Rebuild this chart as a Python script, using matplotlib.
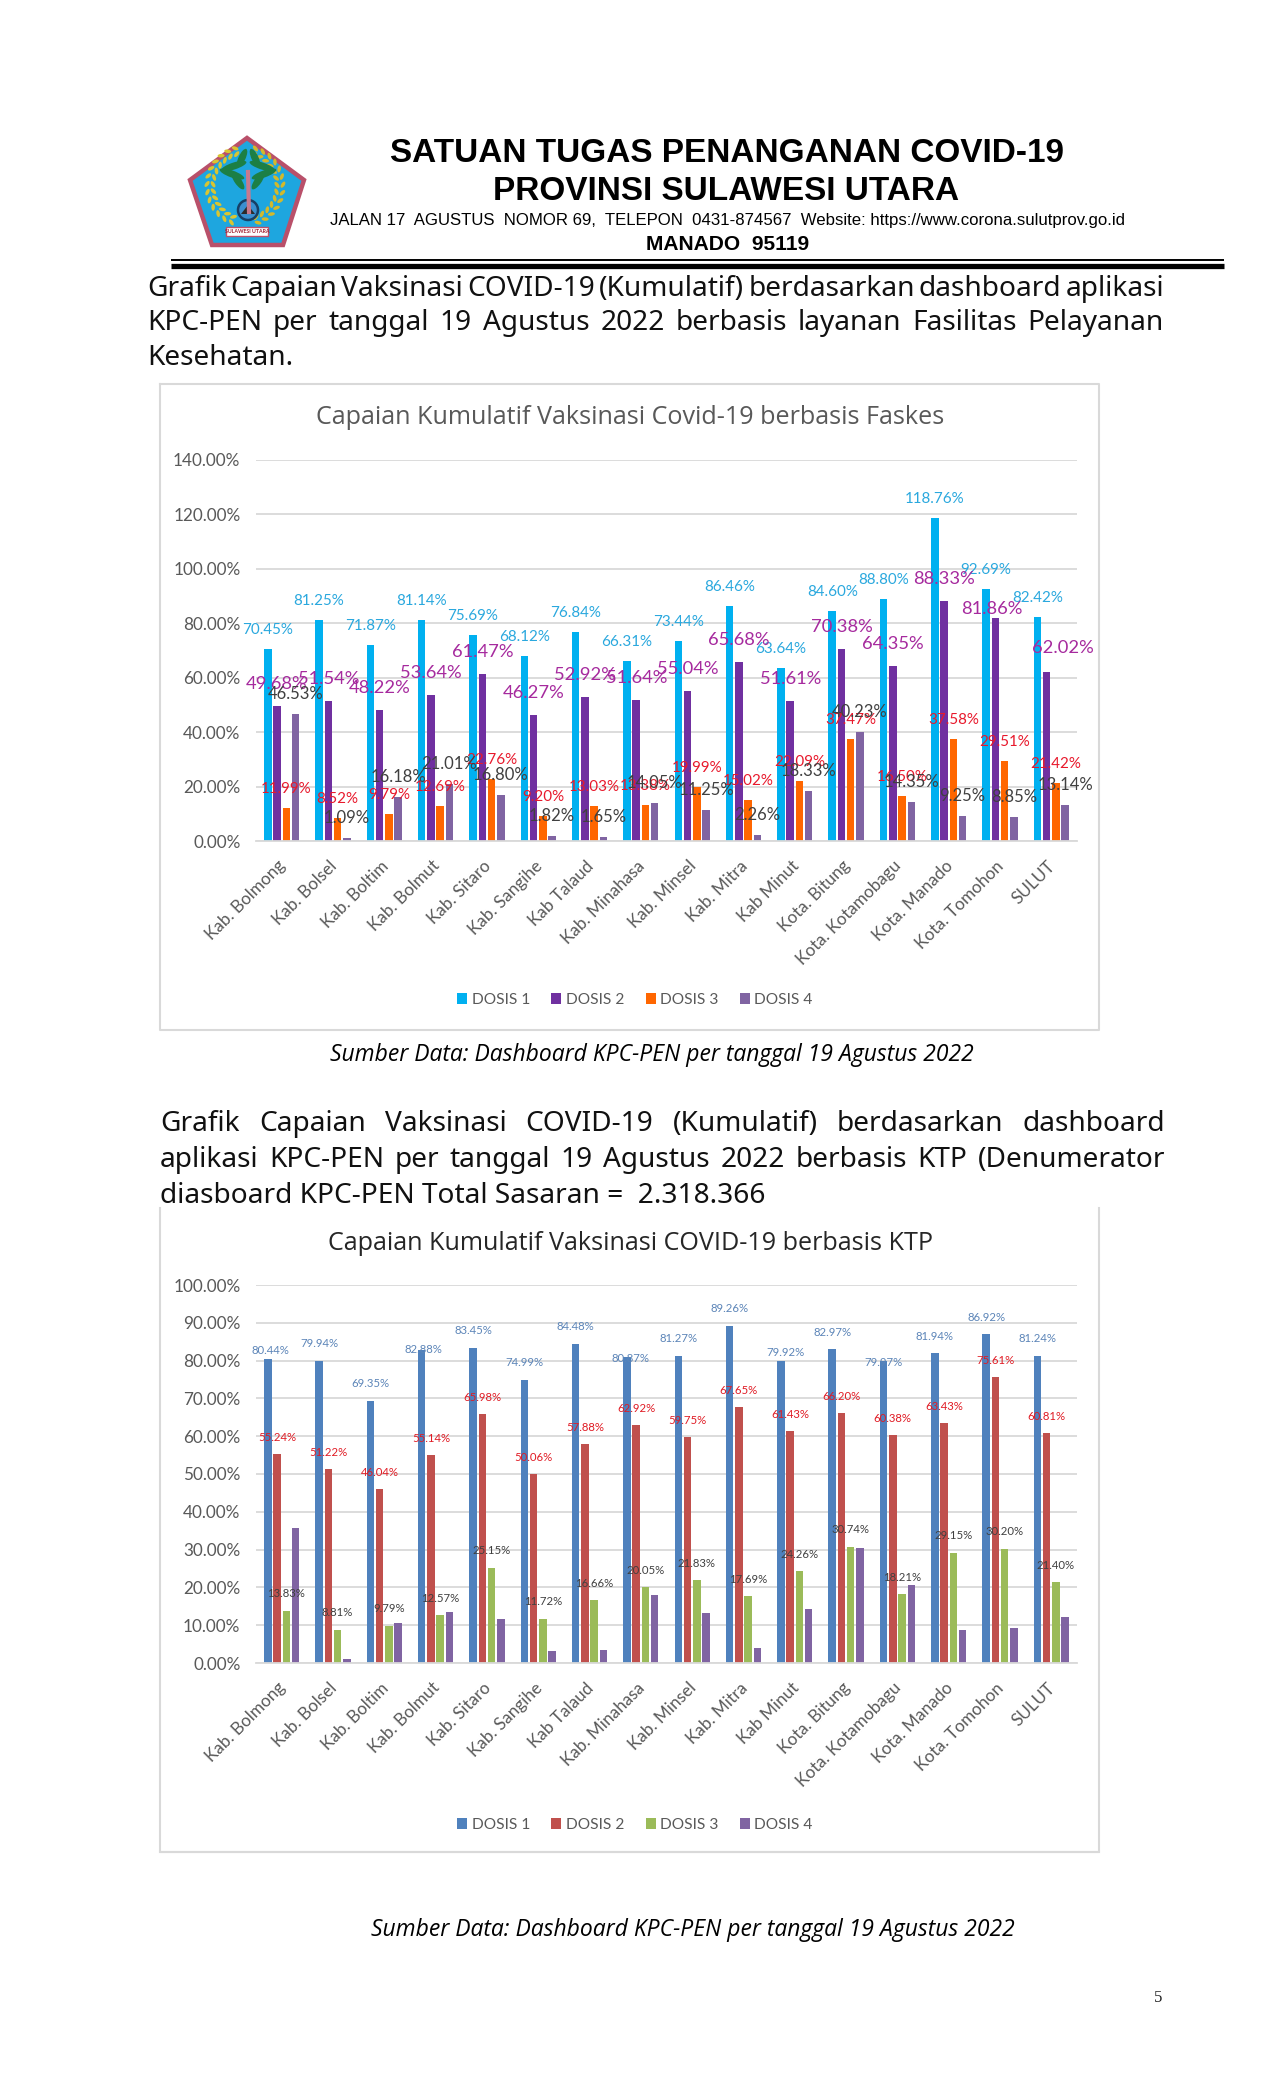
import matplotlib
matplotlib.use('Agg')
import matplotlib.pyplot as plt
import numpy as np
from matplotlib.patches import Polygon, Patch, Ellipse, Circle, Rectangle

W, H = 1275, 2100

categories = ['Kab. Bolmong', 'Kab. Bolsel', 'Kab. Boltim', 'Kab. Bolmut', 'Kab. Sitaro', 'Kab. Sangihe',
              'Kab Talaud', 'Kab. Minahasa', 'Kab. Minsel', 'Kab. Mitra', 'Kab Minut', 'Kota. Bitung',
              'Kota. Kotamobagu', 'Kota. Manado', 'Kota. Tomohon', 'SULUT']
series_names = ['DOSIS 1', 'DOSIS 2', 'DOSIS 3', 'DOSIS 4']

# chart 1 - faskes
f_dosis1 = [70.45, 81.25, 71.87, 81.14, 75.69, 68.12, 76.84, 66.31, 73.44, 86.46, 63.64, 84.60, 88.80, 118.76, 92.69, 82.42]
f_dosis2 = [49.68, 51.54, 48.22, 53.64, 61.47, 46.27, 52.92, 51.64, 55.04, 65.68, 51.61, 70.38, 64.35, 88.33, 81.86, 62.02]
f_dosis3 = [11.99, 8.52, 9.79, 12.69, 22.76, 9.20, 13.03, 13.38, 19.99, 15.02, 22.09, 37.47, 16.50, 37.58, 29.51, 21.42]
f_dosis4 = [46.53, 1.09, 16.18, 21.01, 16.80, 1.82, 1.65, 14.05, 11.25, 2.26, 18.33, 40.23, 14.35, 9.25, 8.85, 13.14]

# chart 2 - ktp (dosis 4 has no labels)
k_dosis1 = [80.44, 79.94, 69.35, 82.88, 83.45, 74.99, 84.48, 80.87, 81.27, 89.26, 79.92, 82.97, 79.97, 81.94, 86.92, 81.24]
k_dosis2 = [55.24, 51.22, 46.04, 55.14, 65.98, 50.06, 57.88, 62.92, 59.75, 67.65, 61.43, 66.20, 60.38, 63.43, 75.61, 60.81]
k_dosis3 = [13.83, 8.81, 9.79, 12.57, 25.15, 11.72, 16.66, 20.05, 21.83, 17.69, 24.26, 30.74, 18.21, 29.15, 30.20, 21.40]
k_dosis4 = [35.7, 1.1, 10.6, 13.4, 11.6, 3.3, 3.4, 17.9, 13.3, 3.9, 14.3, 30.4, 20.7, 8.6, 9.3, 12.2]

plt.rcParams['font.family'] = ['Lato', 'DejaVu Sans']
fig = plt.figure(figsize=(W / 100, H / 100), dpi=100, facecolor='white')

# page layer in pixel coordinates
page = fig.add_axes([0, 0, 1, 1])
page.set_xlim(0, W)
page.set_ylim(H, 0)
page.axis('off')


def justified(line, x0, x1, y, size, stretch=True):
    if not stretch:
        page.text(x0, y, line, fontsize=size, family='Noto Sans', color='#111111', va='center', ha='left')
        return
    words = line.split(' ')
    items = [page.text(x0, y, w, fontsize=size, family='Noto Sans', color='#111111', va='center', ha='left') for w in words]
    r = fig.canvas.get_renderer()
    widths = [t.get_window_extent(r).width for t in items]
    gap = (x1 - x0 - sum(widths)) / (len(words) - 1)
    x = x0
    for t, w in zip(items, widths):
        t.set_x(x)
        x += w + gap


def wreath(t1, t2, color):
    for a in np.arange(t1, t2, 12):
        rad = np.radians(a)
        for side in [-1, 1]:
            cx = 245 + (35 + side * 3) * np.cos(rad)
            cy = 186 - (36 + side * 3) * np.sin(rad)
            page.add_patch(Ellipse((cx, cy), 7, 3.5, angle=-a + 90 + side * 35, fc=color, ec='none'))


def draw_logo():
    page.add_patch(Polygon([(247, 138), (304, 180), (283, 245), (212, 245), (190, 180)], fc='#1ea6df', ec='#b9506a', lw=3.2, joinstyle='miter'))
    wreath(105, 250, '#d9c531')
    wreath(-70, 75, '#d2b92c')
    page.plot([248, 249], [172, 212], color='#c8798e', lw=3)
    for dx, dy, w, ang in [(-16, 4, 26, 20), (16, 4, 26, -20), (-14, -4, 26, -18), (14, -4, 26, 18), (-6, -12, 20, -65), (7, -12, 20, 65),
                           (-10, 11, 20, 55), (10, 11, 20, -55)]:
        page.add_patch(Ellipse((248 + dx, 170 + dy), w, 7, angle=ang, fc='#1c7f45', ec='none'))
    page.add_patch(Circle((248, 210), 10, fc='#3a8fd0', ec='#173f66', lw=1.8))
    page.add_patch(Polygon([(241, 214), (248, 205), (255, 214)], fc='#2b2b2b', ec='none'))
    page.add_patch(Rectangle((226, 227), 42, 9, fc='white', ec='#c0506a', lw=1))
    page.text(247, 231.5, 'SULAWESI UTARA', fontsize=3.8, color='#a02030', ha='center', va='center', weight='bold')


draw_logo()

# header
page.text(727.5, 154, 'SATUAN TUGAS PENANGANAN COVID-19', family='Liberation Sans', weight='bold', fontsize=24, ha='center', va='center', color='black')
page.text(726.5, 192, 'PROVINSI SULAWESI UTARA', family='Liberation Sans', weight='bold', fontsize=24, ha='center', va='center', color='black')
page.text(727, 221, 'JALAN 17  AGUSTUS  NOMOR 69,  TELEPON  0431-874567  Website: https://www.corona.sulutprov.go.id', family='Liberation Sans', fontsize=12.1, ha='center', va='center', color='black')
page.text(728, 244, 'MANADO  95119', family='Liberation Sans', weight='bold', fontsize=15.1, ha='center', va='center', color='black')
page.plot([171, 1224], [260, 260], color='black', lw=1.4, solid_capstyle='butt')
page.plot([171, 1224], [266, 266], color='black', lw=3.8, solid_capstyle='butt')

# paragraphs
justified('Grafik Capaian Vaksinasi COVID-19 (Kumulatif) berdasarkan dashboard aplikasi', 147, 1164, 289, 20.2)
justified('KPC-PEN per tanggal 19 Agustus 2022 berbasis layanan Fasilitas Pelayanan', 147, 1164, 323, 20.2)
justified('Kesehatan.', 147, 1164, 358, 20.2, stretch=False)
justified('Grafik Capaian Vaksinasi COVID-19 (Kumulatif) berdasarkan dashboard', 160, 1165, 1124, 20.2)
justified('aplikasi KPC-PEN per tanggal 19 Agustus 2022 berbasis KTP (Denumerator', 160, 1165, 1160, 20.2)
justified('diasboard KPC-PEN Total Sasaran =  2.318.366', 160, 1165, 1196, 20.2, stretch=False)

# captions and page number
page.text(652, 1055, 'Sumber Data: Dashboard KPC-PEN per tanggal 19 Agustus 2022', family='Open Sans', style='italic', fontsize=16.5, ha='center', va='center', color='black')
page.text(693, 1930, 'Sumber Data: Dashboard KPC-PEN per tanggal 19 Agustus 2022', family='Open Sans', style='italic', fontsize=16.5, ha='center', va='center', color='black')
page.text(1158, 1998, '5', family='Liberation Serif', fontsize=12, ha='center', va='center', color='#222222')

# chart frames
page.plot([160, 160, 1099, 1099, 160], [384, 1030, 1030, 384, 384], color='#d9d9d9', lw=1.5)
page.plot([160, 160, 1099, 1099], [1208, 1852, 1852, 1208], color='#d9d9d9', lw=1.5)
page.plot([160, 1099], [1852, 1852], color='#d9d9d9', lw=1.5)
page.text(630, 418, 'Capaian Kumulatif Vaksinasi Covid-19 berbasis Faskes', fontsize=18.1, color='#595959', ha='center', va='center', family='Open Sans')
page.text(630, 1244, 'Capaian Kumulatif Vaksinasi COVID-19 berbasis KTP', fontsize=18.1, color='#262626', ha='center', va='center', family='Open Sans')


def make_chart(top, bottom, ymax, ystep, series, colors, label_series, legend_y):
    ax = fig.add_axes([256 / W, 1 - bottom / H, (1077 - 256) / W, (bottom - top) / H])
    ax.patch.set_alpha(0)
    x = np.arange(len(categories))
    for j, vals in enumerate(series):
        ax.bar(x + (j - 1.5) * 0.18, vals, width=0.146, color=colors[j], zorder=2, label=series_names[j])
    for j, color, size, default, moved in label_series:
        vals = series[j]
        for i, v in enumerate(vals):
            dx, dy = moved.get(i, (0, default))
            ax.annotate('%.2f%%' % v, (x[i] + (j - 1.5) * 0.18, v), xytext=(dx, dy), textcoords='offset pixels',
                        ha='center', va='center', fontsize=size, color=color, zorder=5)
    ax.set_xlim(-0.5, 15.5)
    ax.set_ylim(0, ymax)
    ax.set_yticks(np.arange(0, ymax + 0.1, ystep))
    ax.set_yticklabels(['%.2f%%' % t for t in np.arange(0, ymax + 0.1, ystep)], fontsize=12.3, color='#595959')
    ax.set_xticks(x - 0.08)
    ax.set_xticklabels(categories, rotation=45, ha='right', rotation_mode='anchor', fontsize=12.3, color='#595959')
    ax.tick_params(length=0, axis='y', pad=11.2)
    ax.tick_params(length=0, axis='x', pad=12)
    ax.grid(axis='y', color='#d9d9d9', lw=1.3)
    ax.set_axisbelow(True)
    for s in ['top', 'right', 'left']:
        ax.spines[s].set_visible(False)
    ax.spines['bottom'].set_color('#d9d9d9')
    ax.spines['bottom'].set_linewidth(1.3)
    handles = [Patch(fc=c, ec='none', label=n) for c, n in zip(colors, series_names)]
    ax.legend(handles=handles, ncol=4, loc='center', bbox_to_anchor=(635 / W, 1 - legend_y / H),
              bbox_transform=fig.transFigure, frameon=False, fontsize=11.2, labelcolor='#595959',
              handlelength=0.65, handleheight=0.65, handletextpad=0.3, columnspacing=1.35)
    return ax


# chart 1, two dosis 2 labels were moved by hand in the original
make_chart(460, 841, 140, 20, [f_dosis1, f_dosis2, f_dosis3, f_dosis4],
           ['#00b0f0', '#7030a0', '#ff6600', '#8064a2'],
           [(0, '#2aa8de', 10.9, 19, {}), (1, '#a62a9e', 13.2, 22, {14: (-3.3, 9), 15: (15.7, 24)}),
            (2, '#e8192c', 10.9, 19, {}), (3, '#404040', 12, 20, {})],
           1000)

# chart 2, some dosis 1 labels were moved too
d1_moved = {0: (2.5, 8), 3: (2, 0), 7: (4, -1), 10: (4.5, 8), 12: (0, -2)}
make_chart(1285, 1663, 100, 10, [k_dosis1, k_dosis2, k_dosis3, k_dosis4],
           ['#4f81bd', '#c0504d', '#9bbb59', '#8064a2'],
           [(0, '#5c85b8', 8.2, 17, d1_moved), (1, '#e01b24', 8.2, 16.5, {}), (2, '#404040', 8.2, 17, {})],
           1825)

fig.savefig('out.png', dpi=100)
